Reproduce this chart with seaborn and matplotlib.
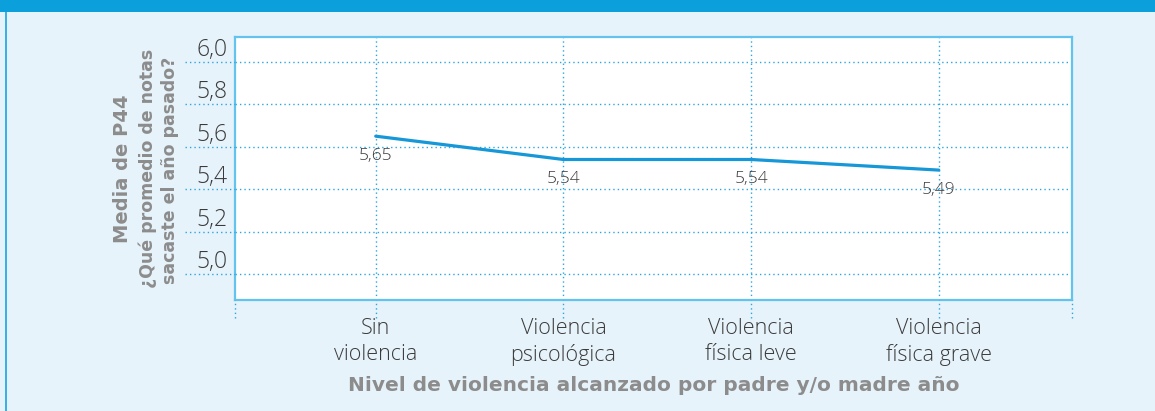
import numpy as np
import pandas as pd
import matplotlib
matplotlib.use("Agg")
import matplotlib.pyplot as plt
from matplotlib.transforms import ScaledTranslation
from matplotlib.patches import Rectangle
import seaborn as sns

categories = ["Sin\nviolencia", "Violencia\npsicológica", "Violencia\nfísica leve", "Violencia\nfísica grave"]
values = [5.65, 5.54, 5.54, 5.49]
value_labels = ["5,65", "5,54", "5,54", "5,49"]
y_ticks = [5.0, 5.2, 5.4, 5.6, 5.8, 6.0]
y_tick_labels = ["5,0", "5,2", "5,4", "5,6", "5,8", "6,0"]

sns.set_theme(style="white")
plt.rcParams["font.family"] = ["Open Sans", "DejaVu Sans"]

BLUE_LINE = "#1597d8"
GRID = "#2ba6e0"
SPINE = "#62c4ee"
TXT = "#3a3a3a"
GREY = "#8c8c8c"
DOT = (0, (1, 2.2))

W, H = 1155, 411
fig = plt.figure(figsize=(W / 100, H / 100), dpi=100)
fig.patch.set_facecolor("#e7f3fa")

# top band and left border
fig.add_artist(Rectangle((0, 1 - 12 / H), 1, 12 / H, transform=fig.transFigure,
                         facecolor="#0b9fdc", edgecolor="none", zorder=0))
fig.add_artist(Rectangle((5 / W, 0), 2 / W, 1 - 12 / H, transform=fig.transFigure,
                         facecolor="#3ab0e4", edgecolor="none", zorder=0))

AX_L, AX_R, AX_T, AX_B = 235, 1072, 37, 300
ax = fig.add_axes([AX_L / W, 1 - AX_B / H, (AX_R - AX_L) / W, (AX_B - AX_T) / H])
ax.set_facecolor("white")

df = pd.DataFrame({"cat": categories, "val": values})
sns.lineplot(data=df, x="cat", y="val", ax=ax, color=BLUE_LINE, linewidth=2.3,
             sort=False, zorder=5)

ax.set_xlim(-0.75, 3.71)
ax.set_ylim(4.877, 6.118)

ax.set_yticks(y_ticks)
ax.set_yticklabels(y_tick_labels)
ax.set_xticks(range(len(categories)))
ax.set_xticklabels(categories, linespacing=1.3)
ax.grid(True, which="major", color=GRID, linestyle=DOT, linewidth=1.0)
ax.set_axisbelow(True)

for s in ax.spines.values():
    s.set_color(SPINE)
    s.set_linewidth(1.6)

# dotted extensions of gridlines outside the axes
ext_y = 50 / (AX_R - AX_L)
for y in y_ticks:
    ax.axhline(y, xmin=-ext_y, xmax=0, color=GRID, linestyle=DOT, linewidth=1.0,
               clip_on=False, zorder=3)
ext_x = 18 / (AX_B - AX_T)
for x in list(range(len(categories))) + list(ax.get_xlim()):
    ax.axvline(x, ymin=-ext_x, ymax=0, color=GRID, linestyle=DOT, linewidth=1.0,
               clip_on=False, zorder=3)

ax.tick_params(axis="y", which="major", left=False, length=0, pad=8 * 0.72,
               labelsize=16.5, labelcolor=TXT)
for lab in ax.get_yticklabels():
    lab.set_fontweight("light")
    lab.set_transform(lab.get_transform() + ScaledTranslation(0, 15 / 100, fig.dpi_scale_trans))

ax.tick_params(axis="x", which="major", bottom=False, length=0, pad=18 * 0.72,
               labelsize=15.5, labelcolor=TXT)
for lab in ax.get_xticklabels():
    lab.set_fontweight("light")

ax.set_xlabel("Nivel de violencia alcanzado por padre y/o madre año",
              fontsize=14.5, fontweight="bold", color=GREY, labelpad=7,
              family=["DejaVu Sans"])
ax.set_ylabel("")

# data labels
for i, (v, lab) in enumerate(zip(values, value_labels)):
    ax.annotate(lab, (i, v), xytext=(0, -20 * 0.72), textcoords="offset points",
                ha="center", va="center", fontsize=12.5, color=TXT, fontweight="light",
                zorder=6)

# y axis title lines
fig.text(122 / W, 1 - 169 / H, "Media de P44", rotation=90, ha="center", va="center",
         fontsize=14, fontweight="bold", color=GREY, family=["DejaVu Sans"])
fig.text(148 / W, 1 - 168 / H, "¿Qué promedio de notas", rotation=90, ha="center",
         va="center", fontsize=12.5, fontweight="bold", color=GREY, family=["DejaVu Sans"])
fig.text(170 / W, 1 - 170 / H, "sacaste el año pasado?", rotation=90, ha="center",
         va="center", fontsize=12.5, fontweight="bold", color=GREY, family=["DejaVu Sans"])

fig.savefig("out.png", dpi=100, facecolor=fig.get_facecolor())
